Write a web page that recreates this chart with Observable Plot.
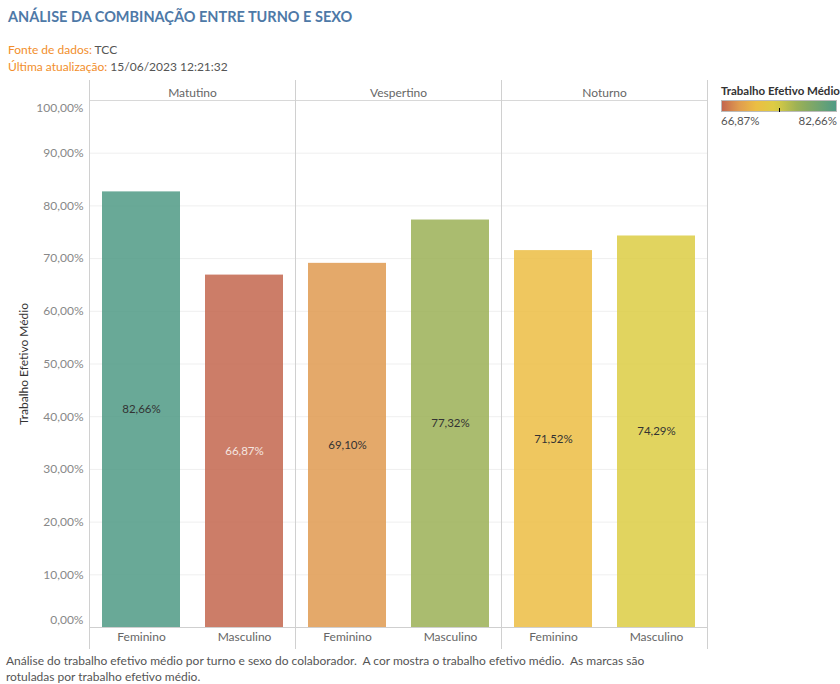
<!DOCTYPE html>
<html>
<head>
<meta charset="utf-8">
<script src="https://cdn.jsdelivr.net/npm/d3@7"></script>
<script src="https://cdn.jsdelivr.net/npm/@observablehq/plot@0.6"></script>
<style>
  html, body { margin: 0; padding: 0; background: #fff; }
  body { width: 840px; height: 684px; position: relative; overflow: hidden; font-family: Lato, "Open Sans", sans-serif; }
  .title { position: absolute; left: 8px; top: 8px; font-size: 14.5px; font-weight: bold; color: #4e79a7; }
  .sub { position: absolute; left: 8px; font-size: 12px; color: #555; }
  .sub b { font-weight: normal; color: #f28e2b; }
  #chart { position: absolute; left: 0; top: 80px; }
  .legend { position: absolute; left: 721px; top: 84px; width: 116px; }
  .legend .lt { font-size: 11.5px; font-weight: bold; color: #333; white-space: nowrap; }
  .legend .ramp { position: relative; margin-top: 3px; height: 12px; border: 1px solid #bbb; box-sizing: border-box; }
  .legend .tick { position: absolute; left: 57px; bottom: -1px; width: 1px; height: 4px; background: #000; }
  .legend .lab { display: flex; justify-content: space-between; font-size: 11.5px; color: #555; margin-top: 2px; }
  .caption { position: absolute; left: 6px; top: 653px; width: 680px; font-size: 12px; line-height: 16px; color: #555; }
</style>
</head>
<body>
<div class="title">ANÁLISE DA COMBINAÇÃO ENTRE TURNO E SEXO</div>
<div class="sub" style="top:42px"><b>Fonte de dados:</b> TCC</div>
<div class="sub" style="top:59px"><b>Última atualização:</b> 15/06/2023 12:21:32</div>
<div id="chart"></div>
<div class="legend">
  <div class="lt">Trabalho Efetivo Médio</div>
  <div class="ramp" id="ramp"><div class="tick"></div></div>
  <div class="lab"><span id="lmin"></span><span id="lmax"></span></div>
</div>
<div class="caption">Análise do trabalho efetivo médio por turno e sexo do colaborador.&nbsp; A cor mostra o trabalho efetivo médio.&nbsp; As marcas são rotuladas por trabalho efetivo médio.</div>
<script>
// ---- data ----
const turnos = ["Matutino", "Vespertino", "Noturno"];
const sexos = ["Feminino", "Masculino"];
const turnoCol = ["Matutino", "Matutino", "Vespertino", "Vespertino", "Noturno", "Noturno"];
const sexoCol = ["Feminino", "Masculino", "Feminino", "Masculino", "Feminino", "Masculino"];
const trabalho = [82.66, 66.87, 69.10, 77.32, 71.52, 74.29];
const yTicks = [0, 10, 20, 30, 40, 50, 60, 70, 80, 90, 100];
// colour ramp stops (value -> colour)
const colorDomain = [66.87, 69.10, 71.52, 74.29, 77.32, 82.66];
const colorRange = ["#c3664e", "#df9a50", "#ecbd43", "#dccd43", "#9bb056", "#4f9a85"];

const table = trabalho.map((v, i) => ({turno: turnoCol[i], sexo: sexoCol[i], valor: v}));
const vmin = d3.min(trabalho), vmax = d3.max(trabalho);
const pct = v => v.toFixed(2).replace(".", ",") + "%";

const chart = Plot.plot({
  width: 840,
  height: 570,
  marginLeft: 88,
  marginRight: 132,
  marginTop: 20,
  marginBottom: 23,
  style: {fontFamily: "Lato, 'Open Sans', sans-serif", fontSize: "12px", background: "#fff"},
  fx: {domain: turnos, padding: 0, label: null},
  x: {domain: sexos, paddingInner: 0.243, paddingOuter: 0.12, label: null},
  y: {domain: [0, 100], label: null},
  color: {type: "linear", domain: colorDomain, range: colorRange},
  marks: [
    Plot.gridY(yTicks.slice(1, -1), {stroke: "#efefef", strokeOpacity: 1}),
    Plot.barY(table, {fx: "turno", x: "sexo", y: "valor", fill: "valor", fillOpacity: 0.85}),
    Plot.text(table, {
      fx: "turno", x: "sexo", y: d => d.valor / 2,
      text: d => pct(d.valor),
      fill: d => d.valor === vmin ? "#f5e6e0" : "#333",
      fontSize: 11.5
    }),
    Plot.ruleY([0], {stroke: "#cfcfcf"}),
    Plot.frame({anchor: "top", stroke: "#d8d8d8"}),
    Plot.frame({anchor: "left", stroke: "#d0d0d0", insetTop: -20, insetBottom: -21}),
    Plot.frame({anchor: "right", stroke: "#d0d0d0", insetTop: -20, insetBottom: -21}),
    Plot.axisY(yTicks.slice(1, -1), {tickSize: 0, tickPadding: 6, tickFormat: pct, color: "#888", label: null}),
    Plot.axisY([100], {tickSize: 0, tickPadding: 6, tickFormat: pct, color: "#888", dy: 8, label: null}),
    Plot.axisY([0], {tickSize: 0, tickPadding: 6, tickFormat: pct, color: "#888", dy: -7, label: null}),
    Plot.axisY([], {label: "Trabalho Efetivo Médio", labelAnchor: "center", labelArrow: false, labelOffset: 70, color: "#333"}),
    Plot.axisFx({anchor: "top", tickSize: 0, tickPadding: 4, color: "#666", label: null}),
    Plot.axisX({anchor: "bottom", tickSize: 0, tickPadding: 5, color: "#666", label: null})
  ]
});
document.getElementById("chart").appendChild(chart);

// legend ramp built from the plot's colour scale
const cs = chart.scale("color");
const stops = d3.range(0, 1.0001, 0.05).map(t => {
  const v = vmin + t * (vmax - vmin);
  return `${cs.apply(v)} ${(t * 100).toFixed(0)}%`;
});
document.getElementById("ramp").style.background = `linear-gradient(to right, ${stops.join(", ")})`;
document.getElementById("lmin").textContent = pct(vmin);
document.getElementById("lmax").textContent = pct(vmax);
</script>
</body>
</html>
